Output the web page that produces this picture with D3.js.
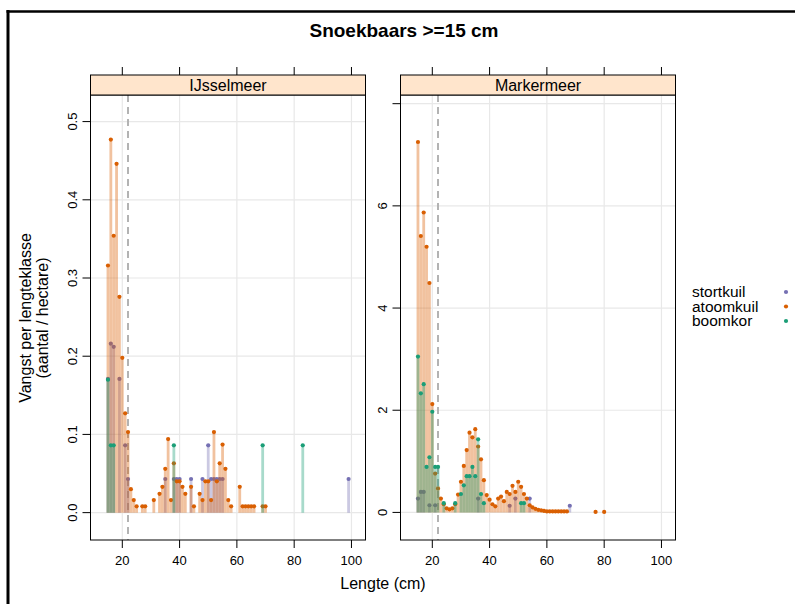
<!DOCTYPE html>
<html><head><meta charset="utf-8">
<script src="https://cdn.jsdelivr.net/npm/d3@7"></script>
<style>body{margin:0;background:#fff}svg{display:block;font-family:"Liberation Sans",Arial,sans-serif}</style>
</head><body><svg id="c" width="795" height="604"></svg>
<script>
// ---- data ----
const title = "Snoekbaars >=15 cm";
const lakes = ["IJsselmeer", "Markermeer"];
const gears = ["stortkuil", "atoomkuil", "boomkor"];
const gearColors = ["#7570B3", "#D95F02", "#1B9E77"];
const xTicks = [20, 40, 60, 80, 100];
const yTicksIJ = [0, 0.1, 0.2, 0.3, 0.4, 0.5];
const yTickLabelsIJ = ["0.0", "0.1", "0.2", "0.3", "0.4", "0.5"];
const yTicksMM = [0, 2, 4, 6, 8];
const yTickLabelsMM = ["0", "2", "4", "6", ""];
const minLength = 22;

// IJsselmeer [lengte, vangst]
const ijStortkuil = [[15,0.171],[16,0.216],[17,0.212],[19,0.171],[21,0.086],[22,0.043],[35,0.043],[38,0.043],[39,0.043],[40,0.043],[44,0.043],[48,0.043],[50,0.086],[51,0.043],[52,0.043],[53,0.043],[54,0.043],[55,0.043],[99,0.043]];
const ijAtoomkuil = [[15,0.316],[16,0.477],[17,0.354],[18,0.446],[19,0.276],[20,0.198],[21,0.127],[22,0.103],[23,0.030],[24,0.016],[25,0.008],[27,0.008],[28,0.008],[31,0.016],[33,0.024],[34,0.033],[35,0.056],[36,0.094],[37,0.016],[38,0.063],[39,0.040],[40,0.040],[41,0.033],[42,0.024],[44,0.033],[45,0.008],[47,0.024],[48,0.016],[49,0.040],[50,0.040],[51,0.016],[52,0.103],[53,0.040],[54,0.063],[55,0.087],[56,0.056],[57,0.016],[58,0.008],[61,0.033],[62,0.008],[63,0.008],[64,0.008],[65,0.008],[66,0.008],[69,0.008],[70,0.008]];
const ijBoomkor = [[15,0.170],[16,0.086],[17,0.086],[38,0.086],[69,0.086],[83,0.086]];

// Markermeer [lengte, vangst]
const mmStortkuil = [[15,0.27],[16,0.40],[17,0.40],[19,0.14],[21,0.14],[36,0.27],[47,0.13],[49,0.27],[54,0.27],[68,0.13]];
const mmAtoomkuil = [[15,7.25],[16,5.41],[17,5.87],[18,5.20],[19,4.49],[20,2.12],[21,0.76],[22,0.47],[23,0.27],[24,0.16],[25,0.08],[26,0.06],[27,0.08],[28,0.16],[29,0.35],[30,0.60],[31,0.91],[32,1.22],[33,1.56],[34,1.47],[35,1.63],[36,1.29],[37,1.04],[38,0.63],[39,0.34],[40,0.25],[41,0.16],[42,0.12],[43,0.27],[44,0.31],[45,0.22],[46,0.40],[47,0.36],[48,0.52],[49,0.40],[50,0.60],[51,0.50],[52,0.36],[53,0.27],[54,0.14],[55,0.10],[56,0.07],[57,0.05],[58,0.04],[59,0.03],[60,0.02],[61,0.02],[62,0.02],[63,0.02],[64,0.02],[65,0.02],[66,0.02],[67,0.02],[77,0.01],[80,0.01]];
const mmBoomkor = [[15,3.05],[16,2.33],[17,2.51],[18,0.89],[19,1.08],[20,1.97],[21,0.89],[22,0.89],[24,0.18],[28,0.18],[30,0.36],[31,0.53],[32,0.71],[33,0.71],[34,0.89],[35,0.71],[36,1.43],[37,0.36],[38,0.18],[51,0.18],[52,0.18]];

// ---- layout ----
const svg = d3.select("#c");
const panelTop = 95, panelBottom = 540, stripTop = 75;
const xDomain = [8.9, 104.9];
const panels = [
  {name: lakes[0], x0: 90.5, x1: 365.5, yDomain: [-0.035, 0.534], yTicks: yTicksIJ, yLabels: yTickLabelsIJ, series: [ijStortkuil, ijAtoomkuil, ijBoomkor]},
  {name: lakes[1], x0: 400.5, x1: 675.5, yDomain: [-0.54, 8.17], yTicks: yTicksMM, yLabels: yTickLabelsMM, series: [mmStortkuil, mmAtoomkuil, mmBoomkor]}
];

// page frame
svg.append("line").attr("x1", 8).attr("x2", 8).attr("y1", 10).attr("y2", 604).attr("stroke", "#000").attr("stroke-width", 3);
svg.append("line").attr("x1", 6.5).attr("x2", 795).attr("y1", 11.5).attr("y2", 11.5).attr("stroke", "#000").attr("stroke-width", 2.5);

svg.append("text").attr("x", 404).attr("y", 37).attr("text-anchor", "middle")
  .attr("font-size", 19).attr("font-weight", "bold").text(title);

panels.forEach(p => {
  const x = d3.scaleLinear().domain(xDomain).range([p.x0, p.x1]);
  const y = d3.scaleLinear().domain(p.yDomain).range([panelBottom, panelTop]);
  const g = svg.append("g");
  const clip = "clip-" + p.name;
  svg.append("clipPath").attr("id", clip).append("rect")
    .attr("x", p.x0).attr("y", panelTop).attr("width", p.x1 - p.x0).attr("height", panelBottom - panelTop);
  const inner = g.append("g").attr("clip-path", `url(#${clip})`);
  inner.selectAll(".gx").data(xTicks).join("line")
    .attr("x1", d => x(d)).attr("x2", d => x(d)).attr("y1", panelTop).attr("y2", panelBottom)
    .attr("stroke", "#e8e8e8").attr("stroke-width", 1.2);
  inner.selectAll(".gy").data(p.yTicks).join("line")
    .attr("x1", p.x0).attr("x2", p.x1).attr("y1", d => y(d)).attr("y2", d => y(d))
    .attr("stroke", "#e8e8e8").attr("stroke-width", 1.2);
  inner.append("line").attr("x1", x(minLength)).attr("x2", x(minLength))
    .attr("y1", panelTop).attr("y2", panelBottom)
    .attr("stroke", "#b3b3b3").attr("stroke-width", 2).attr("stroke-dasharray", "7,5");
  p.series.forEach((s, i) => {
    const sg = inner.append("g");
    sg.selectAll("line").data(s).join("line")
      .attr("x1", d => x(d[0])).attr("x2", d => x(d[0]))
      .attr("y1", y(0)).attr("y2", d => y(d[1]))
      .attr("stroke", gearColors[i]).attr("stroke-opacity", 0.38).attr("stroke-width", 2.8);
    sg.selectAll("circle").data(s).join("circle")
      .attr("cx", d => x(d[0])).attr("cy", d => y(d[1])).attr("r", 2.1)
      .attr("fill", gearColors[i]);
  });
  g.append("rect").attr("x", p.x0).attr("y", panelTop).attr("width", p.x1 - p.x0).attr("height", panelBottom - panelTop)
    .attr("fill", "none").attr("stroke", "#000").attr("stroke-width", 1);
  g.append("rect").attr("x", p.x0).attr("y", stripTop).attr("width", p.x1 - p.x0).attr("height", panelTop - stripTop)
    .attr("fill", "#FFE5CC").attr("stroke", "#000").attr("stroke-width", 1);
  g.append("text").attr("x", (p.x0 + p.x1) / 2).attr("y", stripTop + 16).attr("text-anchor", "middle")
    .attr("font-size", 16).text(p.name);
  g.selectAll(".tb").data(xTicks).join("line")
    .attr("x1", d => x(d)).attr("x2", d => x(d)).attr("y1", panelBottom).attr("y2", panelBottom + 8)
    .attr("stroke", "#000");
  g.selectAll(".tt").data(xTicks).join("line")
    .attr("x1", d => x(d)).attr("x2", d => x(d)).attr("y1", stripTop - 8).attr("y2", stripTop)
    .attr("stroke", "#000");
  g.selectAll(".tl").data(xTicks).join("text")
    .attr("x", d => x(d)).attr("y", panelBottom + 25).attr("text-anchor", "middle")
    .attr("font-size", 13).text(d => d);
  g.selectAll(".ty").data(p.yTicks).join("line")
    .attr("x1", p.x0 - 8).attr("x2", p.x0).attr("y1", d => y(d)).attr("y2", d => y(d))
    .attr("stroke", "#000");
  g.selectAll(".yl").data(p.yTicks).join("text")
    .attr("transform", d => `translate(${p.x0 - 14},${y(d)}) rotate(-90)`)
    .attr("text-anchor", "middle").attr("font-size", 13)
    .text((d, i) => p.yLabels[i]);
});

svg.append("text").attr("x", 383).attr("y", 589).attr("text-anchor", "middle").attr("font-size", 16).text("Lengte (cm)");
svg.append("text").attr("transform", "translate(31,318) rotate(-90)").attr("text-anchor", "middle").attr("font-size", 16).text("Vangst per lengteklasse");
svg.append("text").attr("transform", "translate(48,318) rotate(-90)").attr("text-anchor", "middle").attr("font-size", 16).text("(aantal / hectare)");

const leg = svg.append("g");
gears.forEach((gname, i) => {
  leg.append("text").attr("x", 692).attr("y", 297 + i * 14.5).attr("font-size", 15.5).text(gname);
  leg.append("circle").attr("cx", 786).attr("cy", 292 + i * 14.5).attr("r", 2.1).attr("fill", gearColors[i]);
});
</script></body></html>
